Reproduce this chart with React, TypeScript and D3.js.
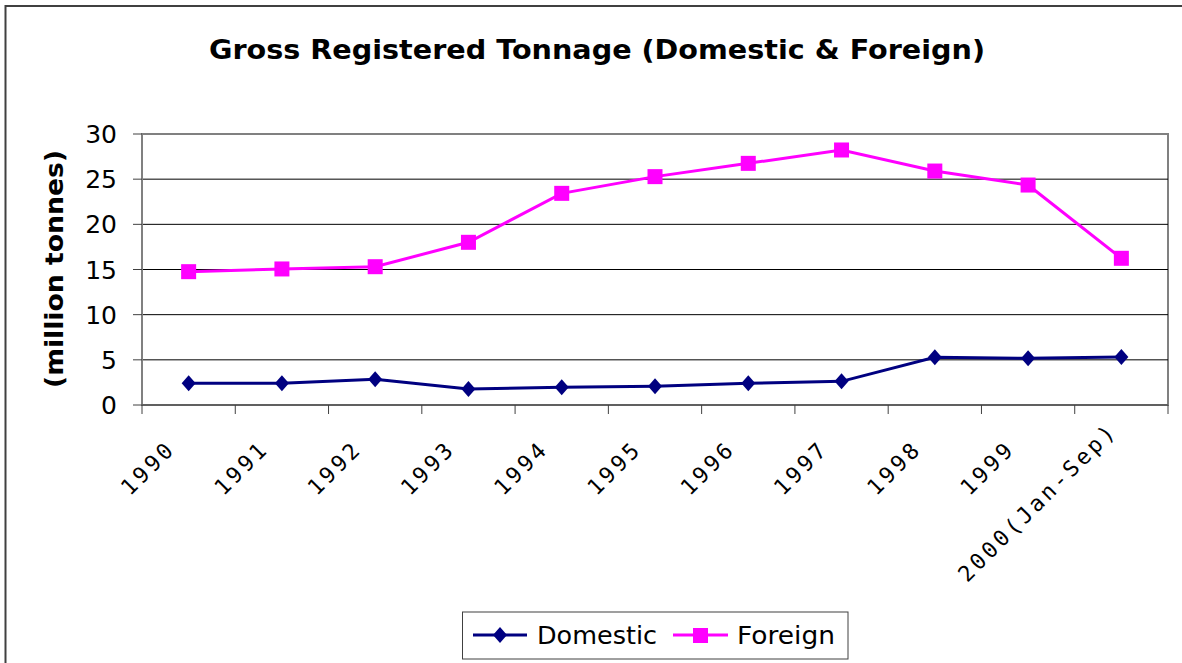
import React from "react";
import * as d3 from "d3";

const categories = ["1990", "1991", "1992", "1993", "1994", "1995", "1996", "1997", "1998", "1999", "2000(Jan-Sep)"];
const domestic = [2.4, 2.4, 2.84, 1.77, 1.96, 2.07, 2.4, 2.62, 5.28, 5.17, 5.31];
const foreign = [14.76, 15.06, 15.31, 18.01, 23.43, 25.28, 26.75, 28.23, 25.9, 24.35, 16.24];
const yTicks = [0, 5, 10, 15, 20, 25, 30];
const seriesNames = ["Domestic", "Foreign"];

const W = 1182;
const H = 663;
const plot = { left: 142, right: 1168, top: 134, bottom: 405 };
const NAVY = "#000080";
const MAGENTA = "#FF00FF";

function diamond(cx: number, cy: number, w: number, h: number) {
  return `M${cx},${cy - h / 2}L${cx + w / 2},${cy}L${cx},${cy + h / 2}L${cx - w / 2},${cy}Z`;
}

export default function App() {
  const x = d3.scaleBand<string>().domain(categories).range([plot.left, plot.right]).padding(0);
  const y = d3.scaleLinear().domain([0, 30]).range([plot.bottom, plot.top]);
  const cx = (c: string) => (x(c) as number) + x.bandwidth() / 2;

  const line = d3
    .line<number>()
    .x((_, i) => cx(categories[i]))
    .y((d) => y(d));

  const tickXs = categories.map((c) => x(c) as number).concat([plot.right]);

  return (
    <svg
      width={W}
      height={H}
      style={{ position: "absolute", left: 0, top: 0, background: "#fff" }}
      fontFamily="'DejaVu Sans', Verdana, sans-serif"
    >
      <rect x={0} y={0} width={W} height={H} fill="#fff" />
      <rect x={5.5} y={6} width={W + 20} height={H + 20} fill="none" stroke="#404040" strokeWidth={2} />

      <text
        x={597}
        y={59}
        textAnchor="middle"
        fontWeight="bold"
        fontSize={26}
        textLength={776}
        lengthAdjust="spacingAndGlyphs"
        fill="#000"
      >
        Gross Registered Tonnage (Domestic &amp; Foreign)
      </text>

      <rect
        x={plot.left}
        y={plot.top}
        width={plot.right - plot.left}
        height={plot.bottom - plot.top}
        fill="#fff"
        stroke="#808080"
        strokeWidth={2}
      />
      {yTicks
        .filter((t) => t > 0 && t < 30)
        .map((t) => (
          <line key={"g" + t} x1={plot.left} x2={plot.right} y1={y(t)} y2={y(t)} stroke="#000" strokeWidth={1} />
        ))}

      <line x1={plot.left} x2={plot.left} y1={plot.top} y2={plot.bottom} stroke="#808080" strokeWidth={2} />
      <line x1={plot.left} x2={plot.right} y1={plot.bottom} y2={plot.bottom} stroke="#606060" strokeWidth={2} />
      {yTicks.map((t) => (
        <line key={"yt" + t} x1={plot.left - 9} x2={plot.left} y1={y(t)} y2={y(t)} stroke="#404040" strokeWidth={1} />
      ))}
      {tickXs.map((tx, i) => (
        <line key={"xt" + i} x1={tx} x2={tx} y1={plot.bottom} y2={plot.bottom + 9} stroke="#404040" strokeWidth={1} />
      ))}

      {yTicks.map((t) => (
        <text key={"yl" + t} x={117} y={y(t)} dy="0.36em" textAnchor="end" fontSize={25} fill="#000">
          {t}
        </text>
      ))}

      <text
        transform={`translate(63, 269) rotate(-90)`}
        textAnchor="middle"
        fontWeight="bold"
        fontSize={25}
        textLength={238}
        lengthAdjust="spacingAndGlyphs"
        fill="#000"
      >
        (million tonnes)
      </text>

      {categories.map((c) => {
        const n = c.length - 4;
        const ex = cx(c) - 12 + n * 1.0;
        const ey = plot.bottom + 45 - n * 2.0;
        return (
          <text
            key={"xl" + c}
            transform={`translate(${ex}, ${ey}) rotate(-45)`}
            textAnchor="end"
            fontSize={22}
            letterSpacing={3.2}
            fontFamily="'DejaVu Sans Mono', monospace"
            fill="#000"
          >
            {c}
          </text>
        );
      })}

      <path d={line(domestic) || ""} fill="none" stroke={NAVY} strokeWidth={3} />
      <path d={line(foreign) || ""} fill="none" stroke={MAGENTA} strokeWidth={3} />
      {domestic.map((v, i) => (
        <path key={"dm" + i} d={diamond(cx(categories[i]), y(v), 14, 16)} fill={NAVY} />
      ))}
      {foreign.map((v, i) => (
        <rect
          key={"fm" + i}
          x={cx(categories[i]) - 7.5}
          y={y(v) - 7.5}
          width={15}
          height={15}
          fill={MAGENTA}
        />
      ))}

      <rect x={462.5} y={612} width={385.5} height={47} fill="#fff" stroke="#404040" strokeWidth={1} />
      <line x1={473} x2={527} y1={635} y2={635} stroke={NAVY} strokeWidth={3} />
      <path d={diamond(500, 635, 14, 16)} fill={NAVY} />
      <text x={537} y={644} fontSize={25} textLength={120} lengthAdjust="spacingAndGlyphs" fill="#000">
        {seriesNames[0]}
      </text>
      <line x1={673} x2={728} y1={635} y2={635} stroke={MAGENTA} strokeWidth={3} />
      <rect x={693} y={628} width={15} height={15} fill={MAGENTA} />
      <text x={737} y={644} fontSize={25} textLength={98} lengthAdjust="spacingAndGlyphs" fill="#000">
        {seriesNames[1]}
      </text>
    </svg>
  );
}
